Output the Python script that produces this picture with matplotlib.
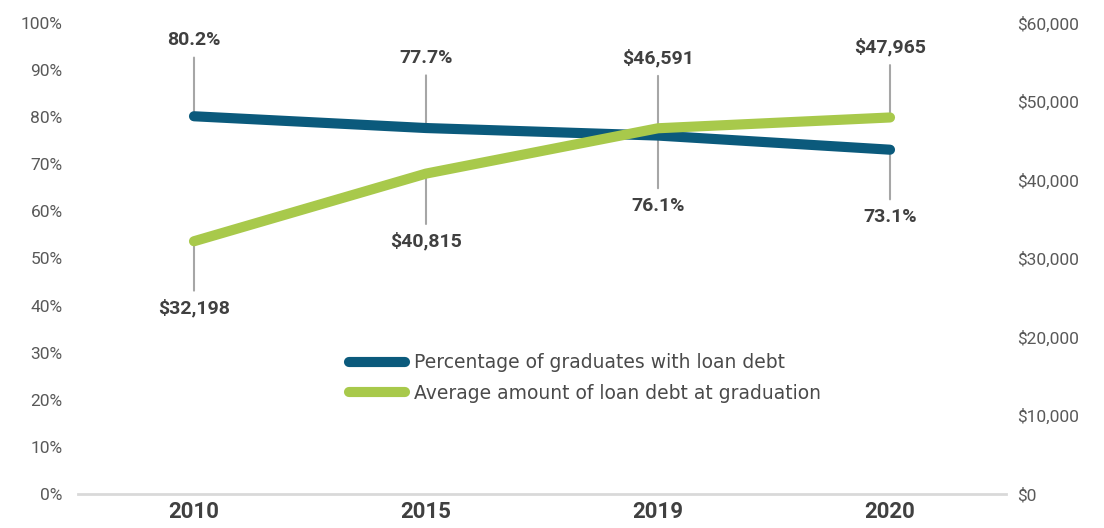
import matplotlib
matplotlib.use("Agg")
import matplotlib.pyplot as plt
from matplotlib.ticker import FuncFormatter

years = ["2010", "2015", "2019", "2020"]
pct_with_debt = [80.2, 77.7, 76.1, 73.1]
avg_debt = [32198, 40815, 46591, 47965]
pct_labels = ["80.2%", "77.7%", "76.1%", "73.1%"]
debt_labels = ["$32,198", "$40,815", "$46,591", "$47,965"]
# label offsets in pixels (positive = above point)
pct_offsets = [76, 70, -70, -67]
debt_offsets = [-67, -68, 70, 70]

TEAL = "#0b5a7c"
GREEN = "#a8c94b"
LEAD = "#a6a6a6"
TXT = "#404040"
TICK = "#595959"

fig = plt.figure(figsize=(11.04, 5.28), dpi=100)
ax = fig.add_axes([78/1104, 1-494/528, (1006-78)/1104, (494-23)/528])
ax2 = ax.twinx()

x = list(range(len(years)))
l1, = ax.plot(x, pct_with_debt, color=TEAL, lw=7.3, solid_capstyle="round",
              zorder=4, label="Percentage of graduates with loan debt")
l2, = ax2.plot(x, avg_debt, color=GREEN, lw=7.3, solid_capstyle="round",
               zorder=4, label="Average amount of loan debt at graduation")

ax.set_xlim(-0.5, 3.5)
ax.set_ylim(0, 100)
ax2.set_ylim(0, 60000)
ax.set_yticks(range(0, 101, 10))
ax.yaxis.set_major_formatter(FuncFormatter(lambda v, p: f"{int(v)}%"))
ax2.set_yticks(range(0, 60001, 10000))
ax2.yaxis.set_major_formatter(FuncFormatter(lambda v, p: f"${int(v):,}"))
ax.set_xticks(x)
ax.set_xticklabels(years)

for a in (ax, ax2):
    for s in ("top", "left", "right", "bottom"):
        a.spines[s].set_visible(False)
ax.spines["bottom"].set_visible(True)
ax.spines["bottom"].set_color("#d9d9d9")
ax.spines["bottom"].set_linewidth(2)

ax.tick_params(axis="y", length=0, pad=11, labelsize=12.5, labelcolor=TICK)
ax2.tick_params(axis="y", length=0, pad=8, labelsize=12.5, labelcolor=TICK)
ax.tick_params(axis="x", length=0, pad=5, labelsize=16, labelcolor=TXT)
for t in ax.get_xticklabels():
    t.set_fontweight("bold")
    t.set_fontfamily("Roboto")
for t in ax.get_yticklabels() + ax2.get_yticklabels():
    t.set_fontfamily("Roboto")

def label(a, xi, v, txt, dy):
    a.annotate(txt, xy=(xi, v), xytext=(0, dy), textcoords="offset pixels",
               ha="center", va="center", fontsize=14, fontweight="bold",
               color=TXT, family="Roboto", zorder=3,
               arrowprops=dict(arrowstyle="-", color=LEAD, lw=1.5,
                               shrinkA=4, shrinkB=0))

for xi, v, t, d in zip(x, pct_with_debt, pct_labels, pct_offsets):
    label(ax, xi, v, t, d)
for xi, v, t, d in zip(x, avg_debt, debt_labels, debt_offsets):
    label(ax2, xi, v, t, d)

ax2.set_zorder(ax.get_zorder() + 1)
ax.patch.set_visible(False)

leg = fig.legend(handles=[l1, l2], loc="center left",
                 bbox_to_anchor=(332/1104, 1-378/528), frameon=False,
                 prop={"family": "DejaVu Sans", "size": 13.5},
                 handlelength=3.0, handletextpad=0.5, labelspacing=0.62)
for t in leg.get_texts():
    t.set_color("#4a4a4a")

fig.savefig("out.png", dpi=100)
